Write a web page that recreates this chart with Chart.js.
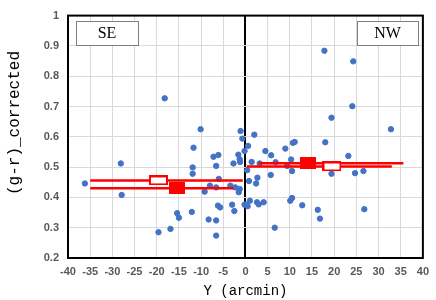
<!DOCTYPE html>
<html>
<head>
<meta charset="utf-8">
<script src="https://cdn.jsdelivr.net/npm/chart.js@4.4.1/dist/chart.umd.min.js"></script>
<style>
  html, body { margin: 0; padding: 0; background: #fff; }
  #wrap { width: 436px; height: 300px; }
</style>
</head>
<body>
<div id="wrap"><canvas id="js-chart"></canvas></div>
<script>
// 散布図の点 (Y [arcmin], (g-r)_corrected)
const dotX = [-36.2, -28.1, -27.9, -19.6, -18.2, -16.9, -15.4, -15.0, -12.1, -11.9, -11.9, -11.7, -10.1,
  -9.2, -8.3, -8.0, -7.2, -6.6, -6.6, -6.6, -6.6, -6.1, -6.0, -6.2, -5.7, -3.4, -3.0, -2.7, -2.5, -2.3,
  -1.6, -1.3, -1.2, -1.3, -1.5, -1.1, -0.7, -0.2, -0.2,
  0.4, 0.6, 0.8, 0.2, 0.5, 1.0, 1.4, 2.0, 2.6, 2.4, 2.7, 3.0, 3.2, 4.1, 4.5, 5.8, 5.7, 6.6, 6.8,
  9.0, 9.4, 10.1, 10.5, 10.3, 10.5, 10.7, 11.1, 12.8, 16.3, 16.8, 17.8, 18.0, 19.4, 19.4,
  23.2, 24.1, 24.3, 24.7, 26.6, 26.8, 32.8];
const dotY = [0.446, 0.512, 0.408, 0.285, 0.727, 0.296, 0.348, 0.333, 0.352, 0.499, 0.478, 0.564, 0.625,
  0.419, 0.327, 0.439, 0.534, 0.504, 0.433, 0.324, 0.274, 0.540, 0.461, 0.373, 0.367, 0.439, 0.376, 0.512, 0.355, 0.433,
  0.541, 0.526, 0.517, 0.428, 0.417, 0.619, 0.594, 0.553, 0.376,
  0.490, 0.570, 0.454, 0.376, 0.371, 0.389, 0.517, 0.607, 0.384, 0.446, 0.465, 0.377, 0.512, 0.384, 0.553, 0.539, 0.474, 0.300, 0.516,
  0.561, 0.504, 0.389, 0.398, 0.525, 0.487, 0.580, 0.583, 0.374, 0.359, 0.330, 0.884, 0.582, 0.663, 0.478,
  0.537, 0.701, 0.849, 0.480, 0.487, 0.361, 0.625];

// 平均値 (SE, NW)
const regions = ['SE', 'NW'];
const filledX = [-15.4, 14.1];
const filledY = [0.430, 0.513];
const filledFrom = [-35, 3];
const filledTo = [-2.7, 35.6];
const hollowX = [-19.6, 19.5];
const hollowY = [0.456, 0.502];
const hollowFrom = [-35, 0.3];
const hollowTo = [-0.6, 33];

const xTicks = [-40, -35, -30, -25, -20, -15, -10, -5, 0, 5, 10, 15, 20, 25, 30, 35, 40];
const yTitle = '(g-r)_corrected';

const RED = '#ff0000';
const BLUE = '#4472c4';

function makeRect(w, h, filled) {
  const c = document.createElement('canvas');
  c.width = w; c.height = h;
  const g = c.getContext('2d');
  if (filled) {
    g.fillStyle = RED;
    g.fillRect(0, 0, w, h);
  } else {
    g.strokeStyle = RED;
    g.lineWidth = 2;
    g.fillStyle = '#fff';
    g.fillRect(1, 1, w - 2, h - 2);
    g.strokeRect(1, 1, w - 2, h - 2);
  }
  return c;
}
const filledImg = makeRect(16, 12, true);
const hollowImg = makeRect(19, 10, false);

const datasets = [];
// 範囲を示す横線
for (let i = 0; i < regions.length; i++) {
  datasets.push({
    type: 'line',
    data: [{ x: hollowFrom[i], y: hollowY[i] }, { x: hollowTo[i], y: hollowY[i] }],
    borderColor: RED, borderWidth: 2.5, pointRadius: 0, order: 2
  });
  datasets.push({
    type: 'line',
    data: [{ x: filledFrom[i], y: filledY[i] }, { x: filledTo[i], y: filledY[i] }],
    borderColor: RED, borderWidth: 2.5, pointRadius: 0, order: 2
  });
}
datasets.push({
  type: 'scatter',
  data: dotX.map((x, i) => ({ x: x, y: dotY[i] })),
  backgroundColor: BLUE, borderColor: BLUE, pointRadius: 2.7, order: 3
});
datasets.push({
  type: 'scatter',
  data: hollowX.map((x, i) => ({ x: x, y: hollowY[i] })),
  pointStyle: hollowImg, order: 1
});
datasets.push({
  type: 'scatter',
  data: filledX.map((x, i) => ({ x: x, y: filledY[i] })),
  pointStyle: filledImg, order: 0
});

// 枠線と SE / NW のラベル、縦軸タイトル
const frame = {
  id: 'frame',
  afterDraw: function (chart) {
    const { ctx, chartArea: { top, right, bottom, left } } = chart;
    ctx.save();
    ctx.strokeStyle = '#000';
    ctx.lineWidth = 2;
    ctx.strokeRect(left, top, right - left, bottom - top);

    const boxes = [[76, 21, 62, 24], [357, 21, 61, 24]];
    ctx.font = '16px "Liberation Serif"';
    ctx.textAlign = 'center';
    ctx.textBaseline = 'middle';
    boxes.forEach(function (b, i) {
      ctx.fillStyle = '#fff';
      ctx.fillRect(b[0], b[1], b[2], b[3]);
      ctx.strokeStyle = '#7f7f7f';
      ctx.lineWidth = 1;
      ctx.strokeRect(b[0] + 0.5, b[1] + 0.5, b[2], b[3]);
      ctx.fillStyle = '#000';
      ctx.fillText(regions[i], b[0] + b[2] / 2, b[1] + b[3] / 2 + 1);
    });

    ctx.translate(15, 123);
    ctx.rotate(-Math.PI / 2);
    ctx.font = '16px "Liberation Mono"';
    ctx.fillStyle = '#000';
    ctx.fillText(yTitle, 0, 0);
    ctx.restore();
  }
};

const tickFont = { family: '"Liberation Sans"', size: 11, weight: 'bold' };

new Chart(document.getElementById('js-chart').getContext('2d'), {
  data: { datasets: datasets },
  options: {
    responsive: true,
    maintainAspectRatio: false,
    animation: false,
    layout: { padding: { top: 14, right: 13, left: 0, bottom: 0 } },
    plugins: { legend: { display: false }, tooltip: { enabled: false } },
    scales: {
      x: {
        type: 'linear', min: -40, max: 40,
        afterBuildTicks: function (scale) { scale.ticks = xTicks.map(v => ({ value: v })); },
        afterFit: function (scale) { scale.height = 42; },
        grid: {
          color: c => c.tick && c.tick.value === 0 ? '#000' : '#d9d9d9',
          lineWidth: c => c.tick && c.tick.value === 0 ? 2 : 1,
          drawTicks: false
        },
        border: { color: '#000', width: 2 },
        ticks: { color: '#595959', font: tickFont, padding: 7, maxRotation: 0 },
        title: {
          display: true, text: 'Y (arcmin)', color: '#000',
          font: { family: '"Liberation Mono"', size: 14 }, padding: { top: 0, bottom: 0 }
        }
      },
      y: {
        type: 'linear', min: 0.2, max: 1,
        afterFit: function (scale) { scale.width = 68; },
        grid: { color: '#d9d9d9', drawTicks: false },
        border: { color: '#000', width: 2 },
        ticks: {
          stepSize: 0.1, color: '#595959', font: tickFont, padding: 9,
          callback: v => Number(v.toFixed(1)).toString()
        },
        title: { display: false }
      }
    }
  },
  plugins: [frame]
});
</script>
</body>
</html>
